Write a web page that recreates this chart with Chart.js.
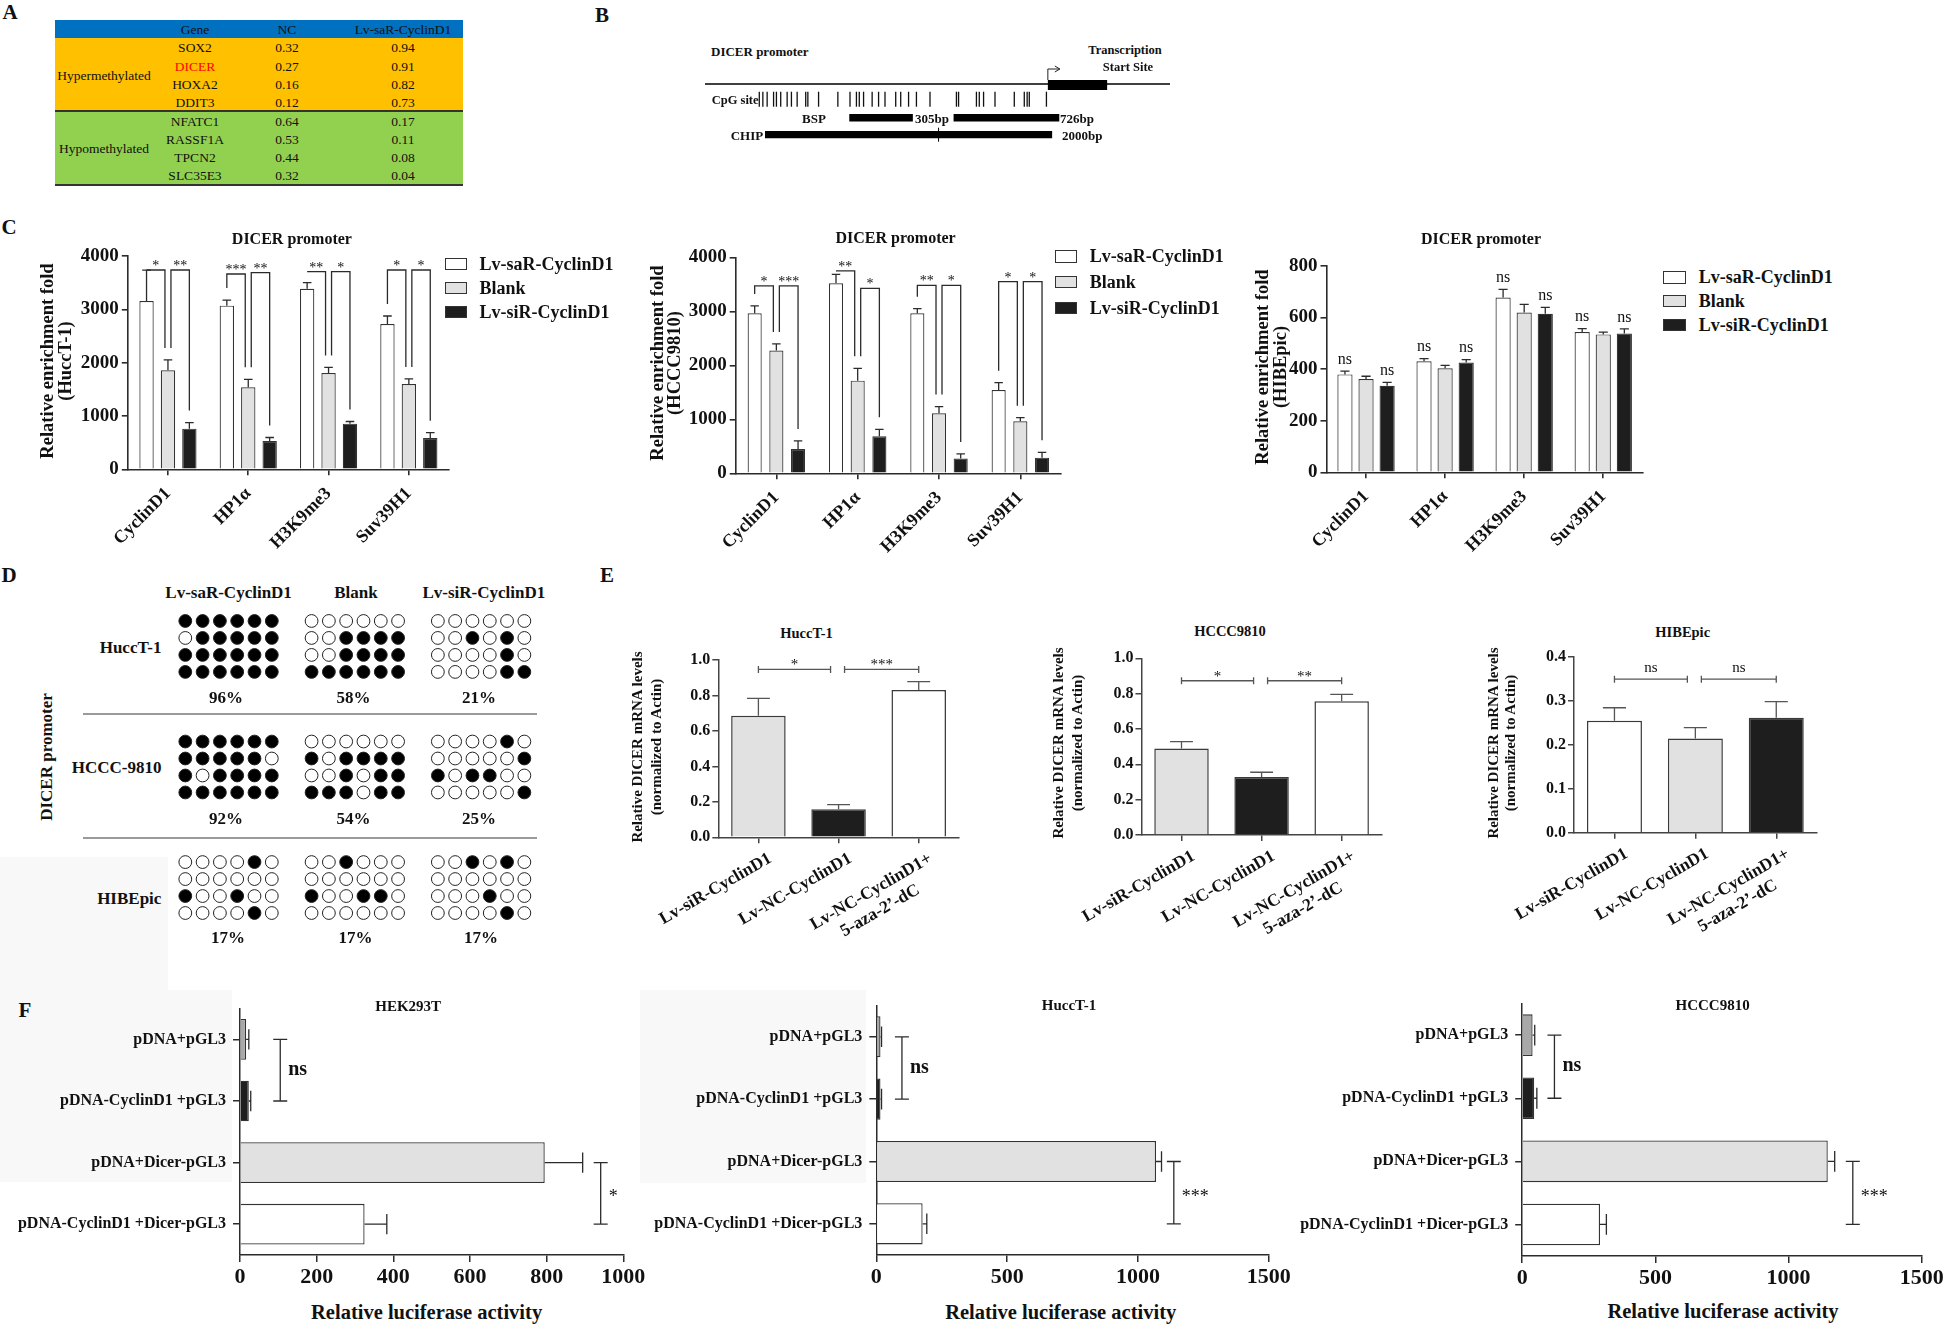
<!DOCTYPE html>
<html><head><meta charset="utf-8">
<script src="https://cdn.jsdelivr.net/npm/chart.js@4.4.1/dist/chart.umd.min.js"></script>
<style>
html,body{margin:0;padding:0;background:#fff;}
body{position:relative;width:1946px;height:1325px;overflow:hidden;font-family:'Liberation Serif','Times New Roman',serif;color:#111;}
.t{position:absolute;white-space:pre;line-height:1;}
.r{position:absolute;box-sizing:border-box;}
canvas{position:absolute;}
</style></head><body>
<script>
// ================= DATA =================
// Panel A
const tblHead = ['Gene', 'NC', 'Lv-saR-CyclinD1'];
const tblGroups = ['Hypermethylated', 'Hypomethylated'];
const hyperGenes = ['SOX2', 'DICER', 'HOXA2', 'DDIT3'];
const hyperNC = ['0.32', '0.27', '0.16', '0.12'];
const hyperLv = ['0.94', '0.91', '0.82', '0.73'];
const hypoGenes = ['NFATC1', 'RASSF1A', 'TPCN2', 'SLC35E3'];
const hypoNC = ['0.64', '0.53', '0.44', '0.32'];
const hypoLv = ['0.17', '0.11', '0.08', '0.04'];

// Panel B (positions in bp relative to TSS, schematic)
const promoterSpan = [-2400, 855];
const tssBox = [0, 415];
const cpgSites = [-2020, -1995, -1965, -1920, -1900, -1870, -1825, -1795, -1755, -1695, -1680, -1605, -1470, -1385, -1340, -1320, -1290, -1230, -1185, -1140, -1065, -1030, -975, -920, -825, -640, -625, -500, -480, -450, -370, -235, -165, -145, -130, -10];
const bspAmplicons = [[-1390, -945], [-660, 80]];
const chipAmplicon = [-1980, 30];
const chipMark = -765;

// Panel C
const cCats = ['CyclinD1', 'HP1α', 'H3K9me3', 'Suv39H1'];
const cSeries = ['Lv-saR-CyclinD1', 'Blank', 'Lv-siR-CyclinD1'];
const cHuccSaR = [3156, 3069, 3387, 2725];
const cHuccSaRSd = [580, 105, 115, 150];
const cHuccBlank = [1856, 1537, 1806, 1600];
const cHuccBlankSd = [195, 150, 105, 95];
const cHuccSiR = [762, 531, 856, 587];
const cHuccSiRSd = [115, 65, 40, 100];
const cHuccSig = [['*', '**'], ['***', '**'], ['**', '*'], ['*', '*']];
const cHuccSigTop = [[3737, 3737], [3662, 3687], [3706, 3706], [3737, 3737]];
const cHcccSaR = [2963, 3519, 2963, 1543];
const cHcccSaRSd = [136, 166, 86, 136];
const cHcccBlank = [2272, 1716, 1111, 963];
const cHcccBlankSd = [123, 228, 124, 68];
const cHcccSiR = [451, 685, 272, 290];
const cHcccSiRSd = [148, 130, 86, 99];
const cHcccSig = [['*', '***'], ['**', '*'], ['**', '*'], ['*', '*']];
const cHcccSigTop = [[3469, 3469], [3747, 3426], [3481, 3481], [3549, 3549]];
const cHibeSaR = [379, 430, 677, 543];
const cHibeSaRSd = [13, 10, 31, 13];
const cHibeBlank = [361, 403, 619, 534];
const cHibeBlankSd = [11, 11, 31, 9];
const cHibeSiR = [335, 425, 614, 537];
const cHibeSiRSd = [13, 11, 25, 18];
const cHibeNs = [['ns', '', 'ns'], ['ns', '', 'ns'], ['ns', '', 'ns'], ['ns', '', 'ns']];

// Panel D (1 = methylated CpG)
const dGroups = ['Lv-saR-CyclinD1', 'Blank', 'Lv-siR-CyclinD1'];
const dCells = ['HuccT-1', 'HCCC-9810', 'HIBEpic'];
const dPct = [['96%', '58%', '21%'], ['92%', '54%', '25%'], ['17%', '17%', '17%']];
const dHucc = [['111111', '011111', '111111', '111111'], ['000000', '001111', '001111', '111111'], ['000000', '001010', '000010', '000011']];
const dHccc = [['111111', '111110', '101111', '111111'], ['000000', '101111', '001011', '111011'], ['000010', '000001', '101100', '000001']];
const dHibe = [['000010', '000000', '100100', '000010'], ['001000', '000000', '100110', '000000'], ['001010', '000000', '000100', '000010']];

// Panel E
const eCats = ['Lv-siR-CyclinD1', 'Lv-NC-CyclinD1', ['Lv-NC-CyclinD1+', '5-aza-2’-dC\u00a0\u00a0\u00a0\u00a0\u00a0\u00a0']];
const eHucc = [0.686, 0.158, 0.831];
const eHuccSd = [0.098, 0.026, 0.047];
const eHuccSig = ['*', '***'];
const eHccc = [0.489, 0.328, 0.757];
const eHcccSd = [0.039, 0.027, 0.039];
const eHcccSig = ['*', '**'];
const eHibe = [0.2545, 0.214, 0.261];
const eHibeSd = [0.0295, 0.025, 0.037];
const eHibeSig = ['ns', 'ns'];

// Panel F
const fCats = ['pDNA+pGL3', 'pDNA-CyclinD1 +pGL3', 'pDNA+Dicer-pGL3', 'pDNA-CyclinD1 +Dicer-pGL3'];
const fHek = [16, 23, 795, 325];
const fHekSd = [7, 5, 99, 58];
const fHekSig = [{a: 0, b: 1, x: 105, label: 'ns'}, {a: 2, b: 3, x: 941, label: '*'}];
const fHucc = [16, 16, 1069, 177];
const fHuccSd = [4, 4, 21, 16];
const fHuccSig = [{a: 0, b: 1, x: 98, label: 'ns'}, {a: 2, b: 3, x: 1137, label: '***'}];
const fHccc = [39, 45, 1147, 292];
const fHcccSd = [8, 10, 26, 24];
const fHcccSig = [{a: 0, b: 1, x: 121, label: 'ns'}, {a: 2, b: 3, x: 1241, label: '***'}];

// ================= STYLE =================
const WHITE = '#FFFFFF', GRAY = '#E1E1E1', BLACK = '#1E1E1E', MID = '#A8A8A8', EDGE = '#333333', AX = '#2b2b2b';
const FONT = "'Liberation Serif','Times New Roman',serif";
Chart.defaults.font.family = FONT;
Chart.defaults.color = '#111';
Chart.defaults.animation = false;

// ================= HELPERS =================
function txt(s, x, y, o = {}) {
  const d = document.createElement('div');
  d.className = 't';
  d.textContent = s;
  d.style.fontSize = (o.size || 16) + 'px';
  d.style.fontWeight = o.normal ? 'normal' : 'bold';
  if (o.color) d.style.color = o.color;
  d.style.left = x + 'px'; d.style.top = y + 'px';
  const tx = o.anchor === 'left' ? '0' : o.anchor === 'right' ? '-100%' : '-50%';
  d.style.transform = 'translate(' + tx + ',-50%)' + (o.rot ? ' rotate(' + o.rot + 'deg)' : '');
  document.body.appendChild(d);
}
function rect(x, y, w, h, bg, border) {
  const d = document.createElement('div');
  d.className = 'r';
  Object.assign(d.style, {left: x + 'px', top: y + 'px', width: w + 'px', height: h + 'px', background: bg || 'transparent'});
  if (border) d.style.border = border;
  document.body.appendChild(d);
}
function lbl(ctx, text, x, yc, size, bold, align) {
  ctx.font = (bold ? 'bold ' : '') + size + 'px ' + FONT;
  ctx.textAlign = align || 'center';
  ctx.textBaseline = 'alphabetic';
  const off = text.indexOf('*') >= 0 ? 0.5 * size : 0.23 * size;
  ctx.fillText(text, x, yc + off);
}
const annotPlugin = {
  id: 'annot',
  afterDatasetsDraw(chart) {
    const o = chart.canvas._annot || {};
    const ctx = chart.ctx;
    const hz = chart.options.indexAxis === 'y';
    const vs = hz ? chart.scales.x : chart.scales.y;
    const cs = hz ? chart.scales.y : chart.scales.x;
    ctx.save();
    ctx.strokeStyle = o.color || AX;
    ctx.fillStyle = '#111';
    ctx.lineWidth = o.lw || 1.3;
    chart.data.datasets.forEach((ds, di) => {
      if (!ds.errs) return;
      chart.getDatasetMeta(di).data.forEach((el, j) => {
        const e = vs.getPixelForValue(ds.data[j] + ds.errs[j]);
        ctx.beginPath();
        if (hz) {
          const h = el.height * o.cap / 2;
          ctx.moveTo(el.x, el.y); ctx.lineTo(e, el.y);
          ctx.moveTo(e, el.y - h); ctx.lineTo(e, el.y + h);
        } else {
          const w = el.width * o.cap / 2;
          ctx.moveTo(el.x, el.y); ctx.lineTo(el.x, e);
          ctx.moveTo(el.x - w, e); ctx.lineTo(el.x + w, e);
        }
        ctx.stroke();
      });
    });
    const errTop = (di, j) => { const ds = chart.data.datasets[di]; return vs.getPixelForValue(ds.data[j] + ds.errs[j]); };
    (o.legs || []).forEach(b => {
      const ea = chart.getDatasetMeta(b.a).data[b.cat], eb = chart.getDatasetMeta(b.b).data[b.cat];
      const xa = ea.x + (b.a === 1 ? 3 : 0), xb = eb.x - (b.b === 1 ? 3 : 0);
      const yt = vs.getPixelForValue(b.top);
      const ya = Math.max(yt, errTop(b.a, b.cat) - o.gap), yb = Math.max(yt, errTop(b.b, b.cat) - o.gap);
      ctx.beginPath(); ctx.moveTo(xa, ya); ctx.lineTo(xa, yt); ctx.lineTo(xb, yt); ctx.lineTo(xb, yb); ctx.stroke();
      lbl(ctx, b.label, (xa + xb) / 2, yt - 7, o.fs, false);
    });
    (o.marks || []).forEach(m => {
      const el = chart.getDatasetMeta(m.ds).data[m.cat];
      lbl(ctx, m.label, el.x, errTop(m.ds, m.cat) - 11, o.fs, false);
    });
    (o.hbr || []).forEach((b, k, arr) => {
      let xa = cs.getPixelForValue(b.a), xb = cs.getPixelForValue(b.b);
      if (arr.some(q => q.b === b.a)) xa += 6;
      if (arr.some(q => q.a === b.b)) xb -= 8;
      const y = vs.getPixelForValue(b.y);
      ctx.beginPath(); ctx.moveTo(xa, y); ctx.lineTo(xb, y);
      ctx.moveTo(xa, y - 3.5); ctx.lineTo(xa, y + 3.5); ctx.moveTo(xb, y - 3.5); ctx.lineTo(xb, y + 3.5); ctx.stroke();
      lbl(ctx, b.label, (xa + xb) / 2, y - (b.label.indexOf('*') >= 0 ? 7.7 : 10.7), o.fs, false);
    });
    (o.vbr || []).forEach(b => {
      const x = vs.getPixelForValue(b.x), ya = cs.getPixelForValue(b.a), yb = cs.getPixelForValue(b.b);
      ctx.beginPath(); ctx.moveTo(x, ya); ctx.lineTo(x, yb);
      ctx.moveTo(x - 7, ya); ctx.lineTo(x + 7, ya); ctx.moveTo(x - 7, yb); ctx.lineTo(x + 7, yb); ctx.stroke();
      const isStar = b.label.indexOf('*') >= 0;
      lbl(ctx, b.label, x + 8, (ya + yb) / 2, isStar ? 18 : 20, !isStar, 'left');
    });
    if (o.arrow !== undefined) {
      const x = chart.scales.x.getPixelForValue(o.arrow), y0 = chart.scales.y.getPixelForValue(0);
      ctx.lineWidth = 1; ctx.strokeStyle = '#222';
      ctx.beginPath(); ctx.moveTo(x, y0 - 4); ctx.lineTo(x, y0 - 15); ctx.lineTo(x + 12, y0 - 15);
      ctx.moveTo(x + 7, y0 - 18); ctx.lineTo(x + 12, y0 - 15); ctx.lineTo(x + 7, y0 - 12); ctx.stroke();
    }
    ctx.restore();
  }
};
function makeCanvas(left, top, w, h, annot) {
  const c = document.createElement('canvas');
  c.width = w; c.height = h;
  c.style.left = left + 'px'; c.style.top = top + 'px';
  c.style.width = w + 'px'; c.style.height = h + 'px';
  c._annot = annot || {};
  document.body.appendChild(c);
  return c;
}
function chartAt(plot, yW, xH, padT, padR, cfg, annot) {
  const left = Math.round(plot.l - yW), top = Math.round(plot.t - padT);
  const yWe = plot.l - left, padTe = plot.t - top;
  const w = Math.round(plot.r - left + padR), h = Math.round(plot.b - top + xH);
  const padRe = w - (plot.r - left), xHe = h - (plot.b - top);
  const c = makeCanvas(left, top, w, h, annot);
  const o = cfg.options;
  o.responsive = false; o.animation = false; o.devicePixelRatio = 1;
  o.layout = {autoPadding: false, padding: {top: padTe, right: padRe, left: 0, bottom: 0}};
  o.scales.y.afterFit = s => { s.width = yWe; };
  o.scales.x.afterFit = s => { s.height = xHe; };
  o.plugins = {legend: {display: false}, tooltip: {enabled: false}};
  cfg.plugins = [annotPlugin];
  return new Chart(c, cfg);
}
function axisCommon(tick, color, bw) {
  return {
    grid: {display: true, drawOnChartArea: false, drawTicks: true, tickLength: tick, color: color, lineWidth: bw, offset: false},
    border: {display: true, color: color, width: bw}
  };
}

// faint backdrop patches seen in the composite figure
rect(0, 857, 168, 133, '#F8F8F8');
rect(0, 990, 232, 192, '#F8F8F8');
rect(640, 990, 226, 193, '#F8F8F8');

// ================= PANEL LABELS =================
txt('A', 10, 12, {size: 21});
txt('B', 602, 15, {size: 21});
txt('C', 9, 227, {size: 21});
txt('D', 9, 575, {size: 21});
txt('E', 607, 575, {size: 21});
txt('F', 25, 1010, {size: 21});

// ================= PANEL A (table) =================
(function () {
  const L = 55, W = 408, colX = [104, 195, 287, 403];
  rect(L, 20, W, 18, '#0070C0');
  rect(L, 38, W, 73, '#FFC000');
  rect(L, 111, W, 74, '#92D050');
  rect(L, 110, W, 1.5, '#333');
  rect(L, 184, W, 1.5, '#333');
  tblHead.forEach((h, i) => txt(h, colX[i + 1], 29.5, {size: 13.5, normal: true}));
  const blocks = [[hyperGenes, hyperNC, hyperLv, 48.3], [hypoGenes, hypoNC, hypoLv, 121.7]];
  blocks.forEach((b, bi) => {
    b[0].forEach((g, i) => {
      const y = b[3] + i * 18.25;
      txt(g, colX[1], y, {size: 13.5, normal: true, color: g === 'DICER' ? '#FF0000' : '#111'});
      txt(b[1][i], colX[2], y, {size: 13.5, normal: true});
      txt(b[2][i], colX[3], y, {size: 13.5, normal: true});
    });
    txt(tblGroups[bi], colX[0], b[3] + 1.5 * 18.25, {size: 13.5, normal: true});
  });
})();

// ================= PANEL B (promoter schematic) =================
(function () {
  const left = 705, top = 59, w = 465, h = 86;
  const pxPerTrack = 16.9, zeroPx = 84 - top;
  const tracks = {promoter: 0, tss: 0.06, cpg: 0.9, bsp: 2, chip: 3};
  const seg = (a, b, y, bw) => ({data: [{x: a, y: y}, {x: b, y: y}], showLine: true, borderColor: '#000', borderWidth: bw, pointRadius: 0, borderCapStyle: 'butt'});
  const c = makeCanvas(left, top, w, h, {arrow: tssBox[0]});
  new Chart(c, {
    type: 'scatter',
    data: {datasets: [
      seg(promoterSpan[0], promoterSpan[1], tracks.promoter, 1.5),
      seg(tssBox[0], tssBox[1], tracks.tss, 10),
      {data: cpgSites.map(x => ({x: x, y: tracks.cpg})), pointStyle: 'line', rotation: 90, pointRadius: 7.5, borderWidth: 1.3, borderColor: '#111', backgroundColor: '#111'},
      ...bspAmplicons.map(a => seg(a[0], a[1], tracks.bsp, 7.4)),
      seg(chipAmplicon[0], chipAmplicon[1], tracks.chip, 7.3),
      {data: [{x: chipMark, y: tracks.chip}], pointStyle: 'line', rotation: 90, pointRadius: 7, borderWidth: 1, borderColor: '#000'},
      {data: [{x: chipMark, y: tracks.chip}], pointStyle: 'line', rotation: 90, pointRadius: 3.4, borderWidth: 1, borderColor: '#fff'}
    ]},
    options: {
      responsive: false, animation: false, devicePixelRatio: 1,
      layout: {autoPadding: false, padding: 0},
      plugins: {legend: {display: false}, tooltip: {enabled: false}},
      scales: {
        x: {type: 'linear', display: false, min: promoterSpan[0], max: promoterSpan[1]},
        y: {type: 'linear', display: false, reverse: true, min: -zeroPx / pxPerTrack, max: (h - zeroPx) / pxPerTrack}
      }
    },
    plugins: [annotPlugin]
  });
  txt('DICER promoter', 711, 51, {size: 13, anchor: 'left'});
  txt('Transcription', 1125, 50, {size: 12.5});
  txt('Start Site', 1128, 67, {size: 12.5});
  txt('CpG site', 711.7, 100, {size: 12.5, anchor: 'left'});
  txt('BSP', 814, 118, {size: 13});
  txt('305bp', 915, 118, {size: 13, anchor: 'left'});
  txt('726bp', 1060, 118, {size: 13, anchor: 'left'});
  txt('CHIP', 730.7, 135, {size: 13, anchor: 'left'});
  txt('2000bp', 1062, 135, {size: 13, anchor: 'left'});
})();

// ================= PANEL C =================
function cChart(plot, vals, sds, yMax, yStep, annot, bp) {
  const colors = [WHITE, GRAY, BLACK];
  const datasets = cSeries.map((name, i) => ({label: name, data: vals[i], errs: sds[i], backgroundColor: colors[i], borderColor: EDGE, borderWidth: 1.2, categoryPercentage: 0.8, barPercentage: bp}));
  return chartAt(plot, 72, 110, 22, 6, {
    type: 'bar',
    data: {labels: cCats, datasets: datasets},
    options: {scales: {
      x: Object.assign({type: 'category', offset: true, ticks: {font: {size: 18, weight: 'bold'}, minRotation: 45, maxRotation: 45, autoSkip: false, padding: 8, color: '#111'}}, axisCommon(6, AX, 1.6)),
      y: Object.assign({type: 'linear', min: 0, max: yMax, ticks: {stepSize: yStep, font: {size: 19, weight: 'bold'}, padding: 3, color: '#111', callback: v => String(v)}}, axisCommon(6, AX, 1.6))
    }}
  }, annot);
}
function cLegend(boxX, ys, textX) {
  const colors = [WHITE, GRAY, BLACK];
  cSeries.forEach((s, i) => {
    rect(boxX, ys[i] - 6, 22.5, 12.5, colors[i], '1.3px solid #333');
    txt(s, textX, ys[i], {size: 18, anchor: 'left'});
  });
}
function legsFrom(sig, tops) {
  const out = [];
  sig.forEach((pair, cat) => {
    out.push({cat: cat, a: 0, b: 1, top: tops[cat][0], label: pair[0]});
    out.push({cat: cat, a: 1, b: 2, top: tops[cat][1], label: pair[1]});
  });
  return out;
}
// C1 HuccT-1
cChart({l: 127.8, t: 256, r: 449, b: 469.3}, [cHuccSaR, cHuccBlank, cHuccSiR], [cHuccSaRSd, cHuccBlankSd, cHuccSiRSd], 4000, 1000,
  {cap: 0.6, gap: 12, fs: 14, legs: legsFrom(cHuccSig, cHuccSigTop)}, 0.67);
txt('DICER promoter', 291.9, 239, {size: 16});
txt('Relative enrichment fold', 46.9, 361, {size: 18.5, rot: -90});
txt('(HuccT-1)', 65.3, 361, {size: 18.5, rot: -90});
cLegend(444.9, [263.8, 287.5, 311.7], 479.6);
// C2 HCCC9810
cChart({l: 735.7, t: 257.3, r: 1061, b: 473.3}, [cHcccSaR, cHcccBlank, cHcccSiR], [cHcccSaRSd, cHcccBlankSd, cHcccSiRSd], 4000, 1000,
  {cap: 0.6, gap: 12, fs: 14, legs: legsFrom(cHcccSig, cHcccSigTop)}, 0.65);
txt('DICER promoter', 895.6, 238.3, {size: 16});
txt('Relative enrichment fold', 657.2, 363, {size: 18.5, rot: -90});
txt('(HCCC9810)', 674.4, 363, {size: 18.5, rot: -90});
cLegend(1054.5, [256.3, 281.8, 307.5], 1089.7);
// C3 HIBEpic
(function () {
  const marks = [];
  cHibeNs.forEach((row, cat) => row.forEach((s, ds) => { if (s) marks.push({cat: cat, ds: ds, label: s}); }));
  cChart({l: 1326.5, t: 265.7, r: 1642.8, b: 472.3}, [cHibeSaR, cHibeBlank, cHibeSiR], [cHibeSaRSd, cHibeBlankSd, cHibeSiRSd], 800, 200,
    {cap: 0.6, gap: 12, fs: 16, marks: marks}, 0.72);
})();
txt('DICER promoter', 1481, 239, {size: 16});
txt('Relative enrichment fold', 1262, 367, {size: 18.5, rot: -90});
txt('(HIBEpic)', 1279.7, 367, {size: 18.5, rot: -90});
cLegend(1663.4, [277.2, 300.5, 324.5], 1698.8);

// ================= PANEL D =================
(function () {
  const blocks = [dHucc, dHccc, dHibe];
  const pts = [], fills = [];
  blocks.forEach((blk, b) => blk.forEach((grid, g) => grid.forEach((row, r) => row.split('').forEach((ch, col) => {
    pts.push({x: g * 7.3 + col, y: b * 7.1 + r});
    fills.push(ch === '1' ? '#000' : '#fff');
  }))));
  const c = makeCanvas(168, 604, 374, 326, {});
  new Chart(c, {
    type: 'scatter',
    data: {datasets: [{data: pts, pointRadius: 6.4, pointBackgroundColor: fills, pointBorderColor: '#222', pointBorderWidth: 1}]},
    options: {
      responsive: false, animation: false, devicePixelRatio: 1, layout: {autoPadding: false, padding: 0},
      plugins: {legend: {display: false}, tooltip: {enabled: false}},
      scales: {x: {display: false, min: -1, max: 20.62}, y: {display: false, reverse: true, min: -1, max: 18.2}}
    }
  });
  const gx = [229, 356.5, 482], hx = [228.6, 356, 483.9];
  dGroups.forEach((g, i) => txt(g, hx[i], 591.7, {size: 17}));
  const rowY = [646.7, 766.7, 898.3], pctY = [696.7, 818.3, 936.7];
  dCells.forEach((cName, b) => {
    txt(cName, 161.4, rowY[b], {size: 17, anchor: 'right'});
    dPct[b].forEach((p, g) => txt(p, gx[g] - 3 + (b === 2 ? 2 : 0), pctY[b], {size: 17}));
  });
  rect(83, 713, 454, 2, '#9a9a9a');
  rect(83, 837, 454, 2, '#9a9a9a');
  txt('DICER promoter', 46.4, 756.7, {size: 17, rot: -90});
})();

// ================= PANEL E =================
function eChart(plot, vals, sds, colors, yMax, yStep, sig, sigY) {
  const hbr = sig.map((s, k) => ({a: k, b: k + 1, y: sigY, label: s}));
  return chartAt(plot, 60, 140, 15, 10, {
    type: 'bar',
    data: {labels: eCats, datasets: [{data: vals, errs: sds, backgroundColor: colors, borderColor: '#3a3a3a', borderWidth: 1.5, barPercentage: 0.68, categoryPercentage: 1}]},
    options: {scales: {
      x: Object.assign({type: 'category', offset: true, ticks: {font: {size: 17.5, weight: 'bold'}, minRotation: 30, maxRotation: 30, autoSkip: false, padding: 5, labelOffset: 12, color: '#111'}}, axisCommon(6, '#444', 1.5)),
      y: Object.assign({type: 'linear', min: 0, max: yMax, ticks: {stepSize: yStep, font: {size: 16, weight: 'bold'}, padding: 2, color: '#111', callback: v => v.toFixed(1)}}, axisCommon(6, '#444', 1.5))
    }}
  }, {cap: 0.42, fs: 15, hbr: hbr, color: '#555'});
}
eChart({l: 693.7, t: 660, r: 958.8, b: 837.3}, eHucc, eHuccSd, [GRAY, BLACK, WHITE], 1.0, 0.2, eHuccSig, 0.947);
txt('HuccT-1', 806.5, 633.3, {size: 14.5});
txt('Relative DICER mRNA levels', 636.8, 746.7, {size: 15, rot: -90});
txt('(normalized to Actin)', 655.8, 746.7, {size: 15, rot: -90});
eChart({l: 1117.3, t: 658.3, r: 1381.7, b: 835}, eHccc, eHcccSd, [GRAY, BLACK, WHITE], 1.0, 0.2, eHcccSig, 0.873);
txt('HCCC9810', 1230, 630.7, {size: 14.5});
txt('Relative DICER mRNA levels', 1058.3, 743.3, {size: 15, rot: -90});
txt('(normalized to Actin)', 1076.7, 743.3, {size: 15, rot: -90});
eChart({l: 1550, t: 656.7, r: 1816.7, b: 832.7}, eHibe, eHibeSd, [WHITE, GRAY, BLACK], 0.4, 0.1, eHibeSig, 0.349);
txt('HIBEpic', 1682.7, 631.7, {size: 14.5});
txt('Relative DICER mRNA levels', 1493.3, 743.3, {size: 15, rot: -90});
txt('(normalized to Actin)', 1510, 743.3, {size: 15, rot: -90});

// ================= PANEL F =================
function fChart(plot, vals, sds, xMax, xStep, sig, padR) {
  return chartAt(plot, 236, 40, 6, padR, {
    type: 'bar',
    data: {labels: fCats, datasets: [{data: vals, errs: sds, backgroundColor: [MID, BLACK, GRAY, WHITE], borderColor: EDGE, borderWidth: 1.3, barPercentage: 0.66, categoryPercentage: 1}]},
    options: {indexAxis: 'y', scales: {
      x: Object.assign({type: 'linear', min: 0, max: xMax, ticks: {stepSize: xStep, font: {size: 22, weight: 'bold'}, padding: 2, color: '#111', callback: v => String(v)}}, axisCommon(7, AX, 1.5)),
      y: Object.assign({type: 'category', offset: true, ticks: {font: {size: 16, weight: 'bold'}, padding: 7, autoSkip: false, color: '#111'}}, axisCommon(7, AX, 1.5))
    }}
  }, {cap: 0.5, vbr: sig});
}
fChart({l: 240, t: 998, r: 623.3, b: 1255}, fHek, fHekSd, 1000, 200, fHekSig, 30);
txt('HEK293T', 408.2, 1006, {size: 15});
txt('Relative luciferase activity', 426.6, 1311.7, {size: 20.5});
fChart({l: 876.3, t: 995, r: 1268.8, b: 1255}, fHucc, fHuccSd, 1500, 500, fHuccSig, 30);
txt('HuccT-1', 1069, 1005, {size: 15});
txt('Relative luciferase activity', 1060.7, 1311.7, {size: 20.5});
fChart({l: 1522.2, t: 993.3, r: 1921.8, b: 1256}, fHccc, fHcccSd, 1500, 500, fHcccSig, 24);
txt('HCCC9810', 1712.6, 1005, {size: 15});
txt('Relative luciferase activity', 1723, 1310.7, {size: 20.5});
</script>
</body></html>
